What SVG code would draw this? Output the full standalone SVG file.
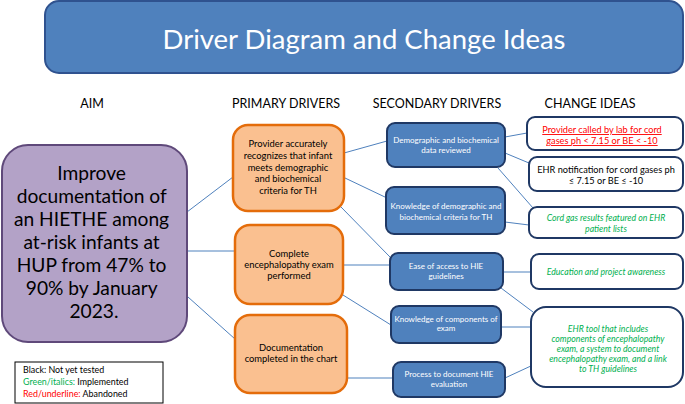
<svg xmlns="http://www.w3.org/2000/svg" width="685" height="404" viewBox="0 0 685 404">
<style>
text{font-family:Lato,"Liberation Sans",sans-serif;}
.hd{font-size:12.5px;fill:#000;text-anchor:middle;}
.p{fill:#fac090;stroke:#e46c0a;stroke-width:2.5;}
.pt{font-size:9.4px;fill:#000;text-anchor:middle;}
.s{fill:#4f81bd;stroke:#1f3864;stroke-width:2;}
.st{font-size:8px;fill:#fff;text-anchor:middle;}
.c{fill:#fff;stroke:#1f3864;stroke-width:2;}
.ct{font-size:9.2px;text-anchor:middle;}
.blk{fill:#000;}
.grn{fill:#00b050;font-style:italic;font-size:8.7px;}
.red{fill:#ff0000;text-decoration:underline;}
.ln{stroke:#4f81bd;stroke-width:1;fill:none;}
</style>
<g id="title">
<rect x="45" y="1" width="638" height="72" rx="14" fill="#4f81bd" stroke="#2f528f" stroke-width="2"/>
<text x="364" y="48.5" font-size="27.5" fill="#fff" text-anchor="middle">Driver Diagram and Change Ideas</text>
</g>
<g id="headings">
<text class="hd" x="92" y="108">AIM</text>
<text class="hd" x="286" y="108">PRIMARY DRIVERS</text>
<text class="hd" x="437" y="108">SECONDARY DRIVERS</text>
<text class="hd" x="590" y="108">CHANGE IDEAS</text>
</g>
<g id="connectors">
<line class="ln" x1="187" y1="212" x2="233" y2="177"/>
<line class="ln" x1="187" y1="251" x2="235" y2="251"/>
<line class="ln" x1="188" y1="297" x2="235" y2="339"/>
<line class="ln" x1="344" y1="153" x2="387" y2="141"/>
<line class="ln" x1="345" y1="178" x2="387" y2="198"/>
<line class="ln" x1="341" y1="207" x2="390" y2="257"/>
<line class="ln" x1="343" y1="265" x2="390" y2="265"/>
<line class="ln" x1="343" y1="295" x2="391" y2="325"/>
<line class="ln" x1="347" y1="378" x2="393" y2="378"/>
<line class="ln" x1="505" y1="137" x2="527" y2="133"/>
<line class="ln" x1="505" y1="153" x2="529" y2="163"/>
<line class="ln" x1="498" y1="168" x2="533" y2="208"/>
<line class="ln" x1="505" y1="222" x2="529" y2="225"/>
<line class="ln" x1="503" y1="272" x2="531" y2="272"/>
<line class="ln" x1="501" y1="288" x2="533" y2="312"/>
<line class="ln" x1="501" y1="327" x2="531" y2="327"/>
<line class="ln" x1="505" y1="378" x2="533" y2="365"/>
</g>
<g id="aim">
<rect x="2" y="145" width="185" height="197" rx="26" fill="#b3a2c7" stroke="#5f497a" stroke-width="2"/>
<text font-size="19.2" text-anchor="middle" fill="#000">
<tspan x="94" y="180">Improve</tspan>
<tspan x="94" y="203">documentation of</tspan>
<tspan x="94" y="226">an HIETHE among</tspan>
<tspan x="94" y="249">at-risk infants at</tspan>
<tspan x="94" y="272">HUP from 47% to</tspan>
<tspan x="94" y="295">90% by January</tspan>
<tspan x="94" y="318">2023.</tspan>
</text>
</g>
<g id="legend">
<rect x="15" y="362" width="148" height="41" fill="#fff" stroke="#000" stroke-width="1"/>
<text x="23" y="373" font-size="8.9" fill="#000">Black: Not yet tested</text>
<text x="23" y="385" font-size="8.9" fill="#000"><tspan fill="#00b050">Green/italics:</tspan> Implemented</text>
<text x="23" y="397" font-size="8.9" fill="#000"><tspan fill="#ff0000">Red/underline:</tspan> Abandoned</text>
</g>
<g id="primary1">
<rect class="p" x="233" y="125" width="111" height="86" rx="15"/>
<text class="pt"><tspan x="288" y="147">Provider accurately</tspan><tspan x="288" y="159">recognizes that infant</tspan><tspan x="288" y="170.5">meets demographic</tspan><tspan x="288" y="182">and biochemical</tspan><tspan x="288" y="193.5">criteria for TH</tspan></text>
</g>
<g id="primary2">
<rect class="p" x="235" y="225" width="108" height="79" rx="15"/>
<text class="pt"><tspan x="289" y="257">Complete</tspan><tspan x="289" y="268">encephalopathy exam</tspan><tspan x="289" y="279">performed</tspan></text>
</g>
<g id="primary3">
<rect class="p" x="235" y="315" width="112" height="78" rx="15"/>
<text class="pt"><tspan x="291" y="351">Documentation</tspan><tspan x="291" y="362">completed in the chart</tspan></text>
</g>
<g id="secondary1">
<rect class="s" x="387" y="123" width="118" height="44" rx="8"/>
<text class="st"><tspan x="446" y="143">Demographic and biochemical</tspan><tspan x="446" y="153">data reviewed</tspan></text>
</g>
<g id="secondary2">
<rect class="s" x="386" y="187" width="119" height="47" rx="8"/>
<text class="st"><tspan x="446" y="209">Knowledge of demographic and</tspan><tspan x="446" y="220">biochemical criteria for TH</tspan></text>
</g>
<g id="secondary3">
<rect class="s" x="390" y="253" width="113" height="37" rx="8"/>
<text class="st"><tspan x="446" y="269">Ease of access to HIE</tspan><tspan x="446" y="279">guidelines</tspan></text>
</g>
<g id="secondary4">
<rect class="s" x="391" y="306" width="110" height="37" rx="8"/>
<text class="st"><tspan x="446" y="322">Knowledge of components of</tspan><tspan x="446" y="331">exam</tspan></text>
</g>
<g id="secondary5">
<rect class="s" x="393" y="362" width="112" height="35" rx="8"/>
<text class="st"><tspan x="449" y="377">Process to document HIE</tspan><tspan x="449" y="387">evaluation</tspan></text>
</g>
<g id="change1">
<rect class="c" x="527" y="117" width="156" height="33" rx="8"/>
<text class="ct red"><tspan x="602" y="133">Provider called by lab for cord</tspan><tspan x="602" y="144">gases ph &lt; 7.15 or BE &lt; -10</tspan></text>
</g>
<g id="change2">
<rect class="c" x="529" y="157" width="154" height="34" rx="8"/>
<text class="ct blk"><tspan x="606" y="173">EHR notification for cord gases ph</tspan><tspan x="606" y="184">≤ 7.15 or BE ≤ -10</tspan></text>
</g>
<g id="change3">
<rect class="c" x="529" y="207" width="154" height="31" rx="8"/>
<text class="ct grn"><tspan x="606" y="221">Cord gas results featured on EHR</tspan><tspan x="606" y="232">patient lists</tspan></text>
</g>
<g id="change4">
<rect class="c" x="531" y="254" width="152" height="35" rx="8"/>
<text class="ct grn"><tspan x="606" y="275">Education and project awareness</tspan></text>
</g>
<g id="change5">
<rect class="c" x="531" y="307" width="152" height="80" rx="15"/>
<text class="ct grn"><tspan x="608" y="332">EHR tool that includes</tspan><tspan x="608" y="342">components of encephalopathy</tspan><tspan x="608" y="352">exam, a system to document</tspan><tspan x="608" y="362">encephalopathy exam, and a link</tspan><tspan x="608" y="372">to TH guidelines</tspan></text>
</g>
</svg>
